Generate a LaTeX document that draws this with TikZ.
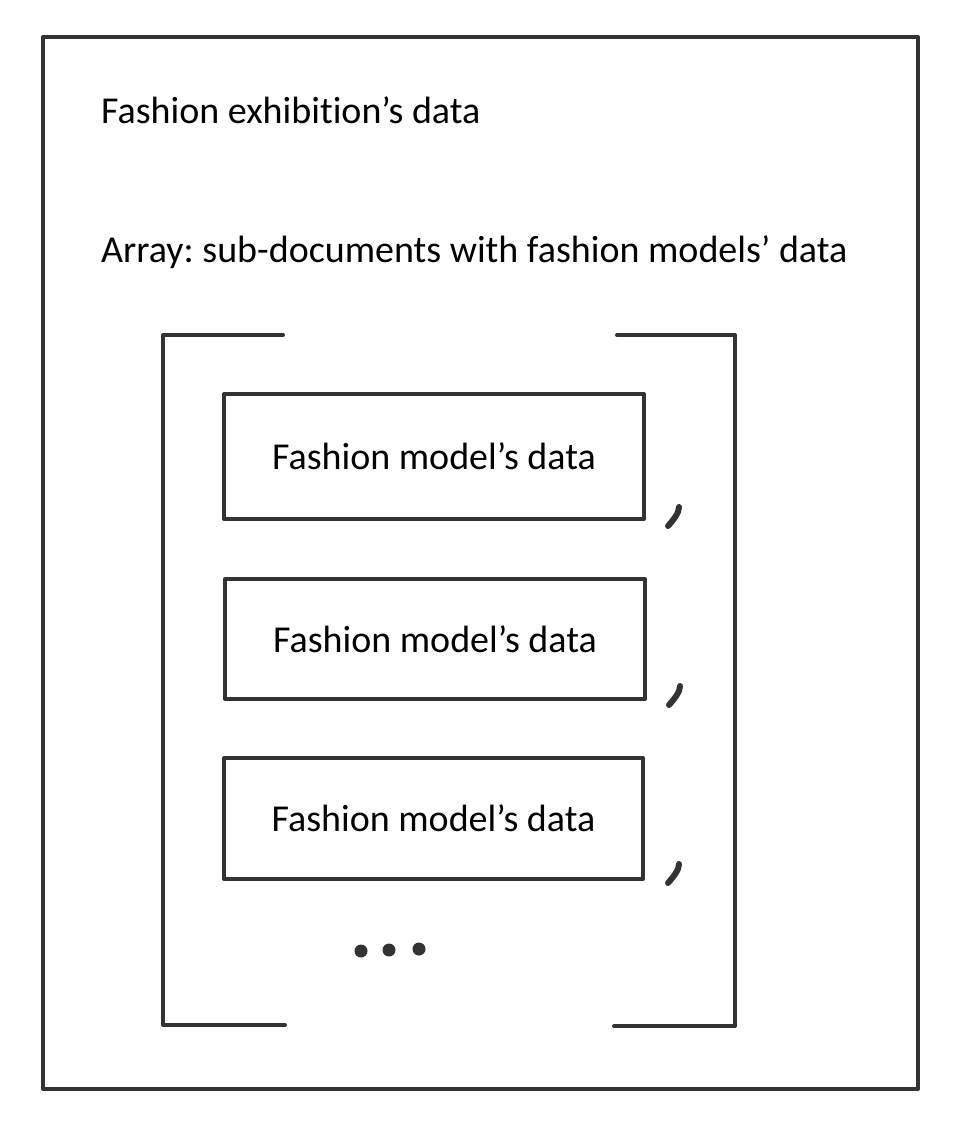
\documentclass[tikz,border=0pt]{standalone}
\usepackage{fontspec}
\setmainfont[Ligatures={NoCommon}]{Carlito}
\frenchspacing
\begin{document}
\begin{tikzpicture}[x=1pt,y=-1pt,
  ln/.style={draw=black!80, line width=4pt, line join=round, line cap=round},
  modelbox/.style={ln, minimum width=420pt, minimum height=123pt, inner sep=0pt, anchor=north west, font=\fontsize{38}{40}\selectfont, text=black},
  lbl/.style={anchor=base west, inner sep=0pt, font=\fontsize{38}{40}\selectfont, text=black},
  dotmark/.style={fill=black!80, draw=none, circle, minimum size=13pt, inner sep=0pt},
  commastroke/.style={draw=black!80, line width=6pt, line cap=round}
]
\useasboundingbox (0,0) rectangle (957,1121);
\fill[white] (0,0) rectangle (957,1121);
\node[ln, minimum width=875pt, minimum height=1052pt, anchor=north west, inner sep=0pt] (outer) at (41,35) {};
\node[lbl] (title) at (101,124) {Fashion exhibition’s data};
\node[lbl] (arr) at (101,262) {Array: sub-documents with fashion models’ data};
% brackets
\draw[ln] (283,335) -- (163,335) -- (163,1025) -- (285,1025);
\draw[ln] (617,335) -- (735,335) -- (735,1026) -- (614,1026);
% boxes
\node[modelbox, minimum height=125pt] (m1) at (222,392) {Fashion model’s data};
\node[modelbox, minimum height=120pt] (m2) at (223,577) {Fashion model’s data};
\node[modelbox, minimum width=419pt, minimum height=121pt] (m3) at (222,756) {Fashion model’s data};
% commas
\draw[commastroke] (668,526) .. controls (674,519) and (679,513) .. (679,507);
\draw[commastroke] (669,705) .. controls (675,698) and (680,692) .. (680,686);
\draw[commastroke] (668,883) .. controls (674,876) and (679,870) .. (679,864);
% dots
\node[dotmark] (d1) at (361,951) {};
\node[dotmark] (d2) at (389,950) {};
\node[dotmark] (d3) at (419,949) {};
\end{tikzpicture}
\end{document}
